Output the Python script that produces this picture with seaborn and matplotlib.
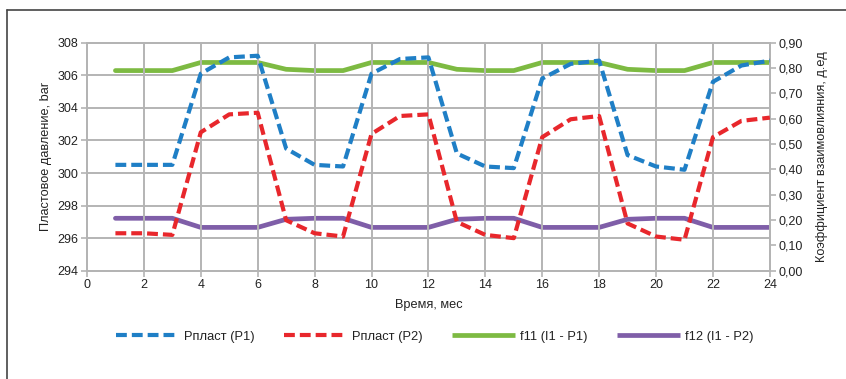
import numpy as np
import pandas as pd
import matplotlib
matplotlib.use("Agg")
import matplotlib.pyplot as plt
import seaborn as sns
from matplotlib.lines import Line2D
from matplotlib.ticker import FuncFormatter

months = list(range(1, 25))
p1 = [300.5, 300.5, 300.5, 306.1, 307.1, 307.2, 301.5, 300.5, 300.4, 306.1, 307.0, 307.1,
      301.2, 300.4, 300.3, 305.8, 306.7, 306.9, 301.1, 300.4, 300.2, 305.6, 306.6, 306.9]
p2 = [296.3, 296.3, 296.2, 302.5, 303.6, 303.7, 297.1, 296.3, 296.1, 302.4, 303.5, 303.6,
      297.0, 296.2, 296.0, 302.2, 303.3, 303.5, 296.9, 296.1, 295.9, 302.2, 303.2, 303.4]
f11 = [0.79, 0.79, 0.79, 0.822, 0.822, 0.822, 0.795, 0.79, 0.79, 0.822, 0.822, 0.822,
       0.795, 0.79, 0.79, 0.822, 0.822, 0.822, 0.795, 0.79, 0.79, 0.822, 0.822, 0.822]
f12 = [0.207, 0.207, 0.207, 0.171, 0.171, 0.171, 0.203, 0.207, 0.207, 0.171, 0.171, 0.171,
       0.203, 0.207, 0.207, 0.171, 0.171, 0.171, 0.203, 0.207, 0.207, 0.171, 0.171, 0.171]
labels = ["Рпласт (P1)", "Рпласт (P2)", "f11 (I1 - P1)", "f12 (I1 - P2)"]
colors = ["#1f7fc6", "#e8272c", "#7dba42", "#7f5ea8"]
xticks = list(range(0, 25, 2))
yticks_left = list(range(294, 309, 2))
yticks_right = [round(0.1 * i, 2) for i in range(10)]

sns.set_theme(style="white")
plt.rcParams['font.family'] = ['Liberation Sans', 'DejaVu Sans']

df = pd.DataFrame({"month": months, "p1": p1, "p2": p2, "f11": f11, "f12": f12})

fig = plt.figure(figsize=(8.46, 3.79), dpi=100)
ax = fig.add_axes([0.1028, 0.2857, 0.8072, 0.6016])
ax2 = ax.twinx()

grid_c = "#b4b4b4"
tick_c = "#222222"
dash = (2.6, 1.2)
lw_d = 3.0
lw_s = 3.4

sns.lineplot(data=df, x="month", y="f11", ax=ax2, color=colors[2], lw=lw_s, zorder=3)
sns.lineplot(data=df, x="month", y="f12", ax=ax2, color=colors[3], lw=lw_s, zorder=3)
sns.lineplot(data=df, x="month", y="p1", ax=ax, color=colors[0], lw=lw_d, zorder=4)
sns.lineplot(data=df, x="month", y="p2", ax=ax, color=colors[1], lw=lw_d, zorder=4)
for l in ax.get_lines():
    l.set_dashes(dash)
    l.set_dash_capstyle("butt")

ax.set_zorder(ax2.get_zorder() + 1)
ax.patch.set_visible(False)

ax.set_xlim(0, 24)
ax.set_ylim(294, 308)
ax2.set_ylim(0, 0.9)
ax.set_xticks(xticks)
ax.set_yticks(yticks_left)
ax2.set_yticks(yticks_right)
ax2.yaxis.set_major_formatter(FuncFormatter(lambda v, p: f"{v:.2f}".replace(".", ",")))

ax2.grid(False)
ax.grid(False)
for x in xticks:
    ax.axvline(x, color=grid_c, lw=1.4, zorder=0)
for y in yticks_left:
    ax.axhline(y, color=grid_c, lw=1.4, zorder=0)

for a in (ax, ax2):
    for s in a.spines.values():
        s.set_color(grid_c)
        s.set_linewidth(1.4)
    a.tick_params(axis="both", length=4, width=1.2, color=grid_c, labelsize=9, labelcolor=tick_c, pad=2)
ax.tick_params(axis="x", bottom=True, direction="out")
ax.tick_params(axis="y", left=True, direction="out")
ax2.tick_params(axis="y", right=True, direction="out")

ax.set_xlabel("Время, мес", fontsize=9.2, color=tick_c, labelpad=6)
ax.set_ylabel("Пластовое давление, bar", fontsize=9.2, color=tick_c, labelpad=4)
ax2.set_ylabel("Коэффициент взаимовлияния, д.ед", fontsize=9.2, color=tick_c, labelpad=10)

handles = [
    Line2D([], [], color=colors[0], lw=lw_d, dashes=dash, dash_capstyle="butt"),
    Line2D([], [], color=colors[1], lw=lw_d, dashes=dash, dash_capstyle="butt"),
    Line2D([], [], color=colors[2], lw=lw_s, solid_capstyle="butt"),
    Line2D([], [], color=colors[3], lw=lw_s, solid_capstyle="butt"),
]
fig.legend(handles, labels, loc="center", bbox_to_anchor=(0.5136, 0.1116), ncol=4,
           frameon=False, fontsize=9.3, handlelength=4.9, handletextpad=0.35,
           columnspacing=2.3, labelcolor=tick_c)

fig.add_artist(Line2D([0.0077, 0.0077], [0.0, 0.974], transform=fig.transFigure, color="#444444", lw=1.2))
fig.add_artist(Line2D([0.0077, 1.0], [0.974, 0.974], transform=fig.transFigure, color="#444444", lw=1.2))

fig.savefig("out.png", dpi=100)
